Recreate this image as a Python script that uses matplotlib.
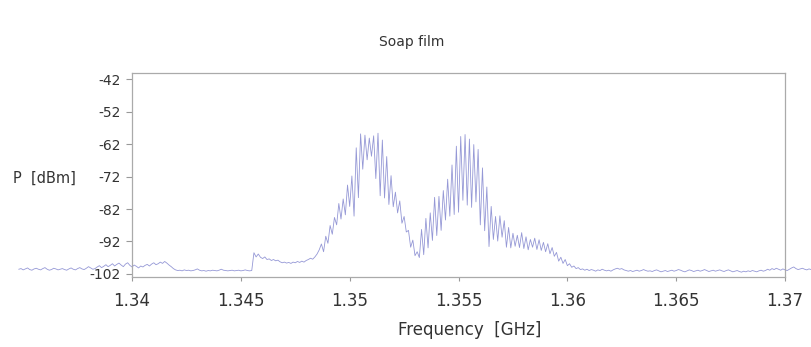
import numpy as np
import matplotlib
matplotlib.use("Agg")
import matplotlib.pyplot as plt

# sweep of the spectrum analyser (GHz), evenly spaced samples
f_start = 1.3348
f_stop = 1.3713

p_dbm = [
    -100.6, -100.4, -100.8, -100.5, -100.2, -100.7, -100.9, -100.5, -100.3, -100.6,
    -100.8, -100.4, -100.1, -100.6, -100.9, -100.7, -100.3, -100.5, -100.8, -100.6,
    -100.4, -100.7, -100.9, -100.5, -100.2, -100.6, -100.8, -100.4, -100.1, -100.5,
    -100.7, -100.3, -99.8, -100.2, -100.6, -100.4, -99.9, -99.5, -100.1, -99.7,
    -99.2, -99.8, -99.4, -98.9, -99.6, -99.1, -98.7, -99.3, -99.8, -99.0,
    -98.6, -99.4, -99.9, -99.3, -99.7, -100.2, -99.6, -99.9, -99.4, -99.1,
    -99.6, -99.0, -98.6, -99.2, -98.9, -98.4, -98.8, -98.2, -98.7, -99.3,
    -99.8, -100.4, -100.8, -101.0, -100.9, -101.1, -100.8, -101.0, -100.9, -101.1,
    -101.0, -100.8, -100.5, -100.9, -101.1, -101.0, -101.2, -101.0, -101.1, -100.9,
    -101.0, -101.1, -100.9, -100.6, -100.9, -101.0, -101.1, -101.0, -100.9, -101.1,
    -101.0, -100.9, -101.1, -101.0, -100.8, -101.0, -101.1, -101.0, -95.5, -96.8,
    -95.9, -96.9, -97.3, -96.8, -97.6, -97.4, -97.9, -97.6, -98.0, -97.8,
    -98.3, -98.6, -98.4, -98.7, -98.5, -98.8, -98.4, -98.6, -98.2, -98.5,
    -98.1, -98.4, -97.9, -97.6, -97.2, -97.5, -96.8, -95.9, -94.6, -92.8,
    -95.2, -90.4, -92.6, -87.1, -89.8, -84.6, -86.9, -80.3, -85.1, -78.9,
    -83.8, -74.6, -81.2, -71.8, -84.2, -63.1, -78.5, -58.8, -69.7, -59.2,
    -66.8, -60.1, -65.7, -59.4, -72.6, -58.6, -77.9, -60.7, -78.6, -65.8,
    -80.6, -71.7, -81.3, -76.8, -83.2, -79.5, -86.4, -84.3, -89.1, -88.6,
    -93.8, -91.6, -96.4, -95.2, -97.0, -88.3, -96.1, -84.9, -94.0, -83.2,
    -91.7, -78.4, -90.2, -78.1, -88.6, -76.3, -85.4, -72.8, -84.2, -68.4,
    -83.7, -62.6, -83.0, -59.6, -79.3, -59.0, -80.8, -60.4, -81.5, -62.1,
    -79.8, -63.6, -86.9, -69.3, -88.7, -75.2, -93.6, -81.2, -91.4, -84.3,
    -91.9, -84.1, -90.7, -85.6, -93.8, -87.7, -94.0, -89.5, -93.5, -90.1,
    -93.9, -89.3, -94.2, -90.6, -94.6, -91.4, -93.8, -91.0, -94.5, -91.5,
    -94.8, -92.3, -95.2, -92.7, -95.8, -93.9, -96.6, -95.4, -98.1, -96.9,
    -98.8, -97.6, -99.5, -98.9, -100.0, -99.6, -100.4, -100.1, -100.7, -100.5,
    -100.9, -100.6, -101.0, -100.7, -100.9, -101.2, -100.8, -101.0, -100.6, -100.9,
    -101.1, -100.9, -101.2, -100.8, -100.5, -100.3, -100.6, -100.4, -100.8, -101.0,
    -101.2, -101.0, -101.3, -101.1, -100.9, -101.2, -101.0, -100.7, -101.0, -101.2,
    -101.1, -101.3, -101.0, -100.8, -101.1, -101.4, -101.2, -101.0, -101.3, -101.1,
    -100.9, -101.2, -101.0, -100.7, -100.9, -101.2, -101.4, -101.1, -100.8, -101.0,
    -101.3, -101.1, -100.9, -101.2, -101.0, -100.7, -101.0, -101.3, -101.1, -100.9,
    -101.2, -101.0, -100.8, -101.1, -101.3, -101.0, -100.8, -101.1, -101.4, -101.2,
    -101.0, -101.3, -101.5, -101.2, -101.4, -101.1, -101.3, -101.0, -101.2, -101.4,
    -101.1, -100.9, -101.2, -101.0, -100.6, -100.9, -100.4, -100.7, -100.3, -100.6,
    -100.9, -100.5, -100.8, -101.0, -100.6, -100.2, -99.9, -100.4, -100.7, -100.5,
    -100.3, -100.6, -100.8, -100.5, -100.7, -100.6,
]

x_ticks = [1.34, 1.345, 1.35, 1.355, 1.36, 1.365, 1.37]
x_tick_labels = ["1.34", "1.345", "1.35", "1.355", "1.36", "1.365", "1.37"]
y_ticks = [-42, -52, -62, -72, -82, -92, -102]

freq = np.linspace(f_start, f_stop, len(p_dbm))

fig = plt.figure(figsize=(8.11, 3.47), dpi=100)
ax = fig.add_axes([0.1628, 0.2017, 0.8052, 0.5879])

# trace runs past the frame on both sides in the original
ax.plot(freq, p_dbm, color="#9598d6", lw=0.6, clip_on=False)

ax.set_xlim(1.34, 1.37)
ax.set_ylim(-103, -40)

ax.set_xticks(x_ticks)
ax.set_xticklabels(x_tick_labels)
ax.set_yticks(y_ticks)
ax.set_yticklabels([str(v) for v in y_ticks])

ax.tick_params(axis="x", length=3, width=0.8, color="#999999",
               labelsize=12, labelcolor="#333333", pad=8)
ax.tick_params(axis="y", length=4, width=0.8, color="#999999",
               labelsize=10, labelcolor="#333333", pad=4)

for s in ax.spines.values():
    s.set_color("#aaaaaa")
    s.set_linewidth(0.9)

# labels
fig.text(412 / 811, 1 - 42 / 347, "Soap film", ha="center", va="center",
         fontsize=10, color="#333333")
fig.text(13 / 811, 1 - 178 / 347, "P  [dBm]", ha="left", va="center",
         fontsize=10.5, color="#333333")
fig.text(470 / 811, 1 - 330 / 347, "Frequency  [GHz]", ha="center", va="center",
         fontsize=12, color="#333333")

fig.savefig("out.png", dpi=100)
